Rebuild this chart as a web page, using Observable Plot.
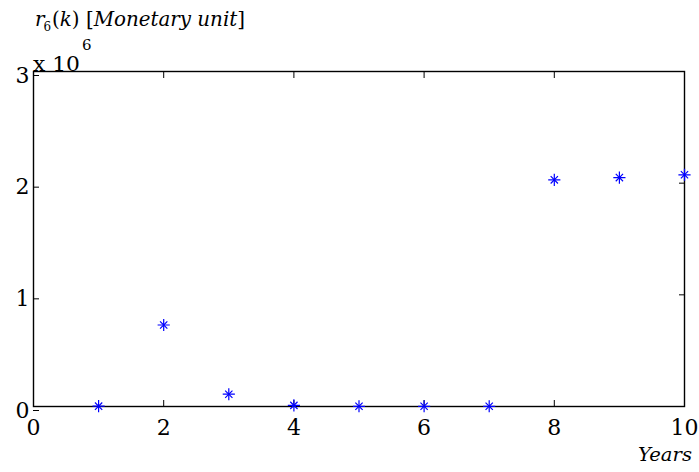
<!DOCTYPE html>
<html><head><meta charset="utf-8">
<script src="https://cdn.jsdelivr.net/npm/d3@7"></script>
<script src="https://cdn.jsdelivr.net/npm/@observablehq/plot@0.6"></script>
<style>
body{margin:0;background:#fff} svg{display:block}
</style>
</head><body><div id="chart"></div>
<script>
const years = [1, 2, 3, 4, 5, 6, 7, 8, 9, 10];
const values = [3000, 730000, 110000, 10000, 2000, 2000, 2000, 2030000, 2050000, 2075000];
const xTicks = [0, 2, 4, 6, 8, 10];
const yTicks = [0, 1, 2, 3];
const yScaleFactor = 1e6;
const data = years.map((k, i) => ({k, v: values[i]}));

const font = "DejaVu Serif";
const blue = "#0000ff";

const chart = Plot.plot({
  width: 699, height: 472,
  marginLeft: 33, marginRight: 15, marginTop: 71, marginBottom: 66,
  style: {background: "#fff", color: "#000", fontFamily: font},
  x: {domain: [0, 10]},
  y: {domain: [0, 3]},
  marks: [
    Plot.axisX(xTicks, {anchor: "bottom", tickSize: -6, tickPadding: 19, fontSize: 22, tickFormat: d => String(d), label: null}),
    Plot.axisX(xTicks, {anchor: "top", tickSize: -6, tickFormat: () => "", label: null}),
    Plot.axisY(yTicks, {anchor: "left", tickSize: -6, tickPadding: 10, dy: 4, fontSize: 22, tickFormat: d => String(d), label: null}),
    Plot.axisY(yTicks, {anchor: "right", tickSize: -6, tickFormat: () => "", label: null}),
    Plot.frame({stroke: "#000", strokeWidth: 1.4}),
    Plot.dot(data, {x: "k", y: d => d.v / yScaleFactor, symbol: "plus", r: 4, stroke: blue, strokeWidth: 1.2}),
    Plot.dot(data, {x: "k", y: d => d.v / yScaleFactor, symbol: "times", r: 3.4, stroke: blue, strokeWidth: 1.2})
  ]
});
document.getElementById("chart").appendChild(chart);

const svg = d3.select(chart);
svg.selectAll("text").attr("font-family", font).style("font-family", font);

function addText(x, y, size, italic, len) {
  const el = svg.append("text").attr("x", x).attr("y", y)
    .attr("text-anchor", "start").attr("font-family", font).style("font-family", font)
    .style("font-size", size + "px").attr("fill", "#000");
  if (italic) el.style("font-style", "italic");
  if (len) el.attr("textLength", len).attr("lengthAdjust", "spacingAndGlyphs");
  return el;
}

// title
const t = addText(35, 26, 20, false, 210);
t.append("tspan").style("font-style", "italic").text("r");
t.append("tspan").style("font-size", "12px").attr("dy", 5).attr("dx", -1).text("6");
t.append("tspan").attr("dy", -5).attr("dx", 1).text("(");
t.append("tspan").style("font-style", "italic").text("k");
t.append("tspan").text(") [");
t.append("tspan").style("font-style", "italic").text("Monetary unit");
t.append("tspan").text("]");

// exponent label
addText(33, 71, 20, false, 47).text("x 10");
addText(82, 50, 15, false, null).text("6");

// x label
addText(638, 461, 19, true, 54).text("Years");
</script>
</body></html>
